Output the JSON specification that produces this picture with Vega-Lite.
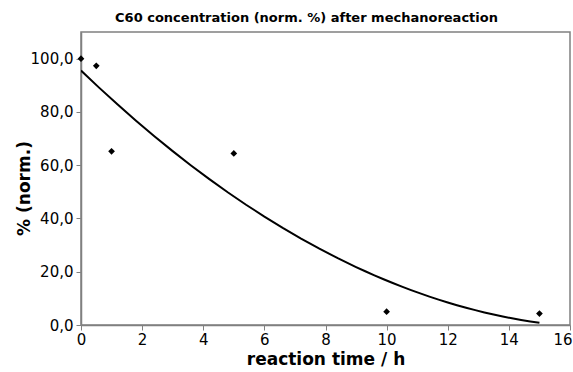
{
  "$schema": "https://vega.github.io/schema/vega-lite/v6.json",
  "width": 489,
  "height": 293,
  "autosize": "none",
  "padding": {"left": 81, "top": 32, "right": 3, "bottom": 47},
  "background": "white",
  "title": {
    "text": "C60 concentration (norm. %) after mechanoreaction",
    "font": "DejaVu Sans",
    "fontSize": 13,
    "fontWeight": "bold",
    "color": "black",
    "anchor": "middle",
    "frame": "group",
    "dx": -19,
    "offset": 7
  },
  "config": {
    "view": {"stroke": "#808080", "strokeWidth": 1.5},
    "axis": {
      "grid": false,
      "domainColor": "#808080",
      "domainWidth": 1.5,
      "tickColor": "#808080",
      "tickSize": 5,
      "labelFont": "DejaVu Sans",
      "labelFontSize": 15,
      "labelColor": "black",
      "titleFont": "DejaVu Sans",
      "titleFontSize": 17,
      "titleFontWeight": "bold",
      "titleColor": "black"
    }
  },
  "data": {
    "values": [
      {"t": 0, "c": 100},
      {"t": 0.5, "c": 97.3},
      {"t": 1, "c": 65.2},
      {"t": 5, "c": 64.4},
      {"t": 10, "c": 5.0},
      {"t": 15, "c": 4.3}
    ]
  },
  "layer": [
    {
      "transform": [
        {"regression": "c", "on": "t", "method": "poly", "order": 2, "extent": [0, 15]}
      ],
      "mark": {"type": "line", "color": "black", "strokeWidth": 2, "clip": true},
      "encoding": {
        "x": {"field": "t", "type": "quantitative"},
        "y": {"field": "c", "type": "quantitative"}
      }
    },
    {
      "mark": {"type": "point", "shape": "diamond", "filled": true, "color": "black", "size": 45, "opacity": 1},
      "encoding": {
        "x": {
          "field": "t",
          "type": "quantitative",
          "scale": {"domain": [0, 16], "nice": false, "zero": false},
          "axis": {
            "title": "reaction time / h",
            "values": [0, 2, 4, 6, 8, 10, 12, 14, 16],
            "labelPadding": 2,
            "titleY": 39,
            "titleBaseline": "alphabetic",
            "labelFlush": false,
            "labelAlign": {"expr": "datum.value == 16 ? 'right' : 'center'"},
            "labelOffset": {"expr": "datum.value == 16 ? 2 : 0"}
          }
        },
        "y": {
          "field": "c",
          "type": "quantitative",
          "scale": {"domain": [0, 110], "nice": false},
          "axis": {
            "title": "% (norm.)",
            "values": [0, 20, 40, 60, 80, 100],
            "labelExpr": "replace(format(datum.value, '.1f'), '.', ',')",
            "labelPadding": 3,
            "titleX": -57,
            "titleY": 156,
            "titleAngle": 270,
            "titleAlign": "center",
            "titleBaseline": "middle"
          }
        }
      }
    }
  ]
}
